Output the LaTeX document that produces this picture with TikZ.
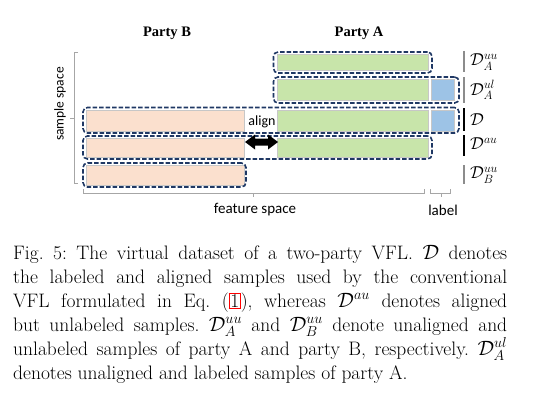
\documentclass[tikz,border=0pt]{standalone}
\usepackage{fontspec}
\usepackage{xcolor}
\newfontfamily\sansf{Carlito}
\newfontfamily\timesf{Liberation Serif}
\definecolor{navy}{HTML}{1F3864}
\definecolor{peach}{HTML}{FBE0CE}
\definecolor{lgreen}{HTML}{C8E5AA}
\definecolor{lblue}{HTML}{9DC3E6}
\definecolor{axisgray}{HTML}{A6A6A6}
\definecolor{bargray}{HTML}{8C8C8C}
\newcommand{\myredbox}[1]{{\setlength{\fboxsep}{0.6pt}\setlength{\fboxrule}{1pt}\textcolor{red}{\fbox{\textcolor{black}{#1}}}}}
\frenchspacing
\begin{document}
\begin{tikzpicture}[x=1pt,y=-1pt,
  dbox/.style={draw=navy, line width=1.6pt, dash pattern=on 4.5pt off 2pt, rounded corners=4.5pt, anchor=north west, inner sep=0pt, outer sep=0pt},
  fillbar/.style={draw=black!22, line width=0.6pt, anchor=north west, inner sep=0pt, outer sep=0pt},
  pbar/.style={fillbar, fill=peach},
  gbar/.style={fillbar, fill=lgreen},
  bbar/.style={fillbar, fill=lblue},
  axisline/.style={draw=axisgray, line width=0.8pt},
  sidebar/.style={line width=1.6pt},
  sidelabel/.style={anchor=west, inner sep=0pt, font=\fontsize{17.28}{19}\selectfont},
  sanslabel/.style={inner sep=0pt, font=\sansf\fontsize{15}{17}\selectfont},
  title/.style={inner sep=0pt, font=\timesf\bfseries\fontsize{14.5}{16}\selectfont},
  capline/.style={anchor=base west, inner sep=0pt, font=\fontsize{19.5}{24}\selectfont\frenchspacing}]
\useasboundingbox (0,0) rectangle (554,404);
\fill[white] (0,0) rectangle (554,404);

% titles
\node[title] (pB) at (167,33) {Party B};
\node[title] (pA) at (359,33) {Party A};

% fill bars
\node[gbar, minimum width=151pt, minimum height=16pt] (g1) at (277,54.5) {};
\node[gbar, minimum width=151pt, minimum height=21pt] (g2) at (277,79.5) {};
\node[bbar, minimum width=23pt, minimum height=21pt] (l2) at (431,79.5) {};
\node[pbar, minimum width=158pt, minimum height=21pt] (p3) at (86,110) {};
\node[gbar, minimum width=151pt, minimum height=21pt] (g3) at (277,110) {};
\node[bbar, minimum width=23pt, minimum height=21pt] (l3) at (431,110) {};
\node[pbar, minimum width=158pt, minimum height=18.5pt] (p4) at (86,138.5) {};
\node[gbar, minimum width=151pt, minimum height=18.5pt] (g4) at (277,138.5) {};
\node[pbar, minimum width=158pt, minimum height=19.5pt] (p5) at (86,165.5) {};

% dashed boxes
\node[dbox, minimum width=158.5pt, minimum height=21pt] (d1) at (273.5,52) {};
\node[dbox, minimum width=185.5pt, minimum height=26pt] (d2) at (273.5,77) {};
\node[dbox, minimum width=376pt, minimum height=25.5pt] (d3) at (83,107.5) {};
\node[dbox, minimum width=349pt, minimum height=23pt] (d4) at (83,136) {};
\node[dbox, minimum width=163pt, minimum height=24pt] (d5) at (83,163) {};

% align
\node[sanslabel, font=\sansf\fontsize{14}{16}\selectfont] (al) at (262,122) {align};
\fill[black] (245,142) -- (255,134.5) -- (255,138.5) -- (268,138.5) -- (268,134.5) -- (278,142)
  -- (268,149.5) -- (268,145.5) -- (255,145.5) -- (255,149.5) -- cycle;

% side bars and labels
\draw[sidebar, bargray] (464,51) -- (464,72);
\draw[sidebar, bargray] (464,77) -- (464,103);
\draw[sidebar, black] (464,108) -- (464,131);
\draw[sidebar, black] (464,135) -- (464,156);
\draw[sidebar, bargray] (464,165) -- (464,184);
\node[sidelabel] (s1) at (470,62) {$\mathcal{D}_A^{uu}$};
\node[sidelabel] (s2) at (470,90) {$\mathcal{D}_A^{ul}$};
\node[sidelabel] (s3) at (470,119.5) {$\mathcal{D}$};
\node[sidelabel] (s4) at (470,144) {$\mathcal{D}^{au}$};
\node[sidelabel] (s5) at (470,175) {$\mathcal{D}_B^{uu}$};

% sample space axis
\draw[axisline] (78,52) -- (74,52) -- (74,183) -- (78,183);
\draw[axisline] (74,118) -- (70,118);
\node[sanslabel, rotate=90, font=\sansf\fontsize{13.5}{16}\selectfont] (ss) at (60,104) {sample space};

% feature space axis
\draw[axisline] (83,189) -- (83,193) -- (424,193) -- (424,189);
\draw[axisline] (253,193) -- (253,197);
\draw[axisline] (430,189) -- (430,193) -- (450,193) -- (450,189);
\draw[axisline] (441.5,193) -- (441.5,197);
\node[sanslabel] (fs) at (255,210) {feature space};
\node[sanslabel] (lb) at (443,210) {label};

% caption
\node[capline] (c1) at (13,259) {\makebox[494pt][s]{Fig.\ 5: The virtual dataset of a two-party VFL. $\mathcal{D}$ denotes}};
\node[capline] (c2) at (13,283) {\makebox[494pt][s]{the labeled and aligned samples used by the conventional}};
\node[capline] (c3) at (13,307) {\makebox[494pt][s]{VFL formulated in Eq.\ (\myredbox{1}), whereas $\mathcal{D}^{au}$ denotes aligned}};
\node[capline] (c4) at (13,331) {\makebox[494pt][s]{but unlabeled samples. $\mathcal{D}^{uu}_A$ and $\mathcal{D}^{uu}_B$ denote unaligned and}};
\node[capline] (c5) at (13,355) {\makebox[494pt][s]{unlabeled samples of party A and party B, respectively. $\mathcal{D}^{ul}_A$}};
\node[capline] (c6) at (13,379) {denotes unaligned and labeled samples of party A.};
\end{tikzpicture}
\end{document}
